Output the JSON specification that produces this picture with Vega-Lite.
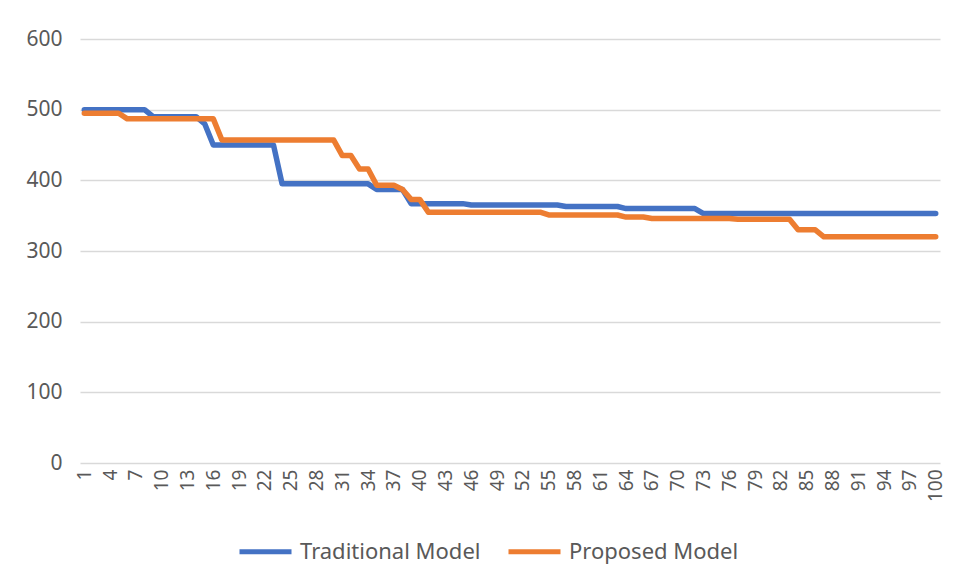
{
  "$schema": "https://vega.github.io/schema/vega-lite/v6.json",
  "width": 860,
  "height": 424,
  "autosize": {"type": "none"},
  "padding": {"left": 80, "top": 39, "right": 20, "bottom": 118},
  "background": "white",
  "config": {
    "view": {"stroke": null},
    "font": "Noto Sans",
    "axis": {"labelColor": "#595959", "labelFont": "Noto Sans"},
    "legend": {"labelColor": "#595959", "labelFont": "Noto Sans"}
  },
  "data": {"values": [
    {"x":1,"Traditional Model":500,"Proposed Model":495},
    {"x":2,"Traditional Model":500,"Proposed Model":495},
    {"x":3,"Traditional Model":500,"Proposed Model":495},
    {"x":4,"Traditional Model":500,"Proposed Model":495},
    {"x":5,"Traditional Model":500,"Proposed Model":495},
    {"x":6,"Traditional Model":500,"Proposed Model":487},
    {"x":7,"Traditional Model":500,"Proposed Model":487},
    {"x":8,"Traditional Model":500,"Proposed Model":487},
    {"x":9,"Traditional Model":490,"Proposed Model":487},
    {"x":10,"Traditional Model":490,"Proposed Model":487},
    {"x":11,"Traditional Model":490,"Proposed Model":487},
    {"x":12,"Traditional Model":490,"Proposed Model":487},
    {"x":13,"Traditional Model":490,"Proposed Model":487},
    {"x":14,"Traditional Model":490,"Proposed Model":487},
    {"x":15,"Traditional Model":480,"Proposed Model":487},
    {"x":16,"Traditional Model":450,"Proposed Model":487},
    {"x":17,"Traditional Model":450,"Proposed Model":457},
    {"x":18,"Traditional Model":450,"Proposed Model":457},
    {"x":19,"Traditional Model":450,"Proposed Model":457},
    {"x":20,"Traditional Model":450,"Proposed Model":457},
    {"x":21,"Traditional Model":450,"Proposed Model":457},
    {"x":22,"Traditional Model":450,"Proposed Model":457},
    {"x":23,"Traditional Model":450,"Proposed Model":457},
    {"x":24,"Traditional Model":395,"Proposed Model":457},
    {"x":25,"Traditional Model":395,"Proposed Model":457},
    {"x":26,"Traditional Model":395,"Proposed Model":457},
    {"x":27,"Traditional Model":395,"Proposed Model":457},
    {"x":28,"Traditional Model":395,"Proposed Model":457},
    {"x":29,"Traditional Model":395,"Proposed Model":457},
    {"x":30,"Traditional Model":395,"Proposed Model":457},
    {"x":31,"Traditional Model":395,"Proposed Model":435},
    {"x":32,"Traditional Model":395,"Proposed Model":435},
    {"x":33,"Traditional Model":395,"Proposed Model":416},
    {"x":34,"Traditional Model":395,"Proposed Model":416},
    {"x":35,"Traditional Model":387,"Proposed Model":393},
    {"x":36,"Traditional Model":387,"Proposed Model":393},
    {"x":37,"Traditional Model":387,"Proposed Model":393},
    {"x":38,"Traditional Model":387,"Proposed Model":387},
    {"x":39,"Traditional Model":367,"Proposed Model":373},
    {"x":40,"Traditional Model":367,"Proposed Model":373},
    {"x":41,"Traditional Model":367,"Proposed Model":355},
    {"x":42,"Traditional Model":367,"Proposed Model":355},
    {"x":43,"Traditional Model":367,"Proposed Model":355},
    {"x":44,"Traditional Model":367,"Proposed Model":355},
    {"x":45,"Traditional Model":367,"Proposed Model":355},
    {"x":46,"Traditional Model":365,"Proposed Model":355},
    {"x":47,"Traditional Model":365,"Proposed Model":355},
    {"x":48,"Traditional Model":365,"Proposed Model":355},
    {"x":49,"Traditional Model":365,"Proposed Model":355},
    {"x":50,"Traditional Model":365,"Proposed Model":355},
    {"x":51,"Traditional Model":365,"Proposed Model":355},
    {"x":52,"Traditional Model":365,"Proposed Model":355},
    {"x":53,"Traditional Model":365,"Proposed Model":355},
    {"x":54,"Traditional Model":365,"Proposed Model":355},
    {"x":55,"Traditional Model":365,"Proposed Model":351},
    {"x":56,"Traditional Model":365,"Proposed Model":351},
    {"x":57,"Traditional Model":363,"Proposed Model":351},
    {"x":58,"Traditional Model":363,"Proposed Model":351},
    {"x":59,"Traditional Model":363,"Proposed Model":351},
    {"x":60,"Traditional Model":363,"Proposed Model":351},
    {"x":61,"Traditional Model":363,"Proposed Model":351},
    {"x":62,"Traditional Model":363,"Proposed Model":351},
    {"x":63,"Traditional Model":363,"Proposed Model":351},
    {"x":64,"Traditional Model":360,"Proposed Model":348},
    {"x":65,"Traditional Model":360,"Proposed Model":348},
    {"x":66,"Traditional Model":360,"Proposed Model":348},
    {"x":67,"Traditional Model":360,"Proposed Model":346},
    {"x":68,"Traditional Model":360,"Proposed Model":346},
    {"x":69,"Traditional Model":360,"Proposed Model":346},
    {"x":70,"Traditional Model":360,"Proposed Model":346},
    {"x":71,"Traditional Model":360,"Proposed Model":346},
    {"x":72,"Traditional Model":360,"Proposed Model":346},
    {"x":73,"Traditional Model":353,"Proposed Model":346},
    {"x":74,"Traditional Model":353,"Proposed Model":346},
    {"x":75,"Traditional Model":353,"Proposed Model":346},
    {"x":76,"Traditional Model":353,"Proposed Model":346},
    {"x":77,"Traditional Model":353,"Proposed Model":345},
    {"x":78,"Traditional Model":353,"Proposed Model":345},
    {"x":79,"Traditional Model":353,"Proposed Model":345},
    {"x":80,"Traditional Model":353,"Proposed Model":345},
    {"x":81,"Traditional Model":353,"Proposed Model":345},
    {"x":82,"Traditional Model":353,"Proposed Model":345},
    {"x":83,"Traditional Model":353,"Proposed Model":345},
    {"x":84,"Traditional Model":353,"Proposed Model":330},
    {"x":85,"Traditional Model":353,"Proposed Model":330},
    {"x":86,"Traditional Model":353,"Proposed Model":330},
    {"x":87,"Traditional Model":353,"Proposed Model":320},
    {"x":88,"Traditional Model":353,"Proposed Model":320},
    {"x":89,"Traditional Model":353,"Proposed Model":320},
    {"x":90,"Traditional Model":353,"Proposed Model":320},
    {"x":91,"Traditional Model":353,"Proposed Model":320},
    {"x":92,"Traditional Model":353,"Proposed Model":320},
    {"x":93,"Traditional Model":353,"Proposed Model":320},
    {"x":94,"Traditional Model":353,"Proposed Model":320},
    {"x":95,"Traditional Model":353,"Proposed Model":320},
    {"x":96,"Traditional Model":353,"Proposed Model":320},
    {"x":97,"Traditional Model":353,"Proposed Model":320},
    {"x":98,"Traditional Model":353,"Proposed Model":320},
    {"x":99,"Traditional Model":353,"Proposed Model":320},
    {"x":100,"Traditional Model":353,"Proposed Model":320}
  ]},
  "transform": [
    {"fold": ["Traditional Model", "Proposed Model"], "as": ["model", "value"]}
  ],
  "mark": {"type": "line", "strokeWidth": 5.5, "strokeJoin": "round", "strokeCap": "round"},
  "encoding": {
    "x": {
      "field": "x", "type": "ordinal",
      "scale": {"type": "point", "padding": 0.5},
      "axis": {
        "title": null, "values": [1,4,7,10,13,16,19,22,25,28,31,34,37,40,43,46,49,52,55,58,61,64,67,70,73,76,79,82,85,88,91,94,97,100],
        "labelAngle": -90, "labelAlign": "right", "labelBaseline": "middle",
        "labelFontSize": 19, "labelPadding": 6, "ticks": false, "domain": false, "grid": false,
        "labelOverlap": false
      }
    },
    "y": {
      "field": "value", "type": "quantitative",
      "scale": {"domain": [0, 600]},
      "axis": {
        "title": null, "values": [0,100,200,300,400,500,600],
        "labelFontSize": 21, "labelPadding": 18, "ticks": false, "domain": false,
        "grid": true, "gridColor": "#D9D9D9", "gridWidth": 1.5
      }
    },
    "color": {
      "field": "model", "type": "nominal",
      "scale": {"domain": ["Traditional Model", "Proposed Model"], "range": ["#4472C4", "#ED7D31"]},
      "legend": {
        "title": null, "orient": "none", "direction": "horizontal",
        "legendX": 157, "legendY": 484,
        "symbolType": "stroke", "symbolSize": 2704, "symbolStrokeWidth": 5,
        "labelFontSize": 22, "labelOffset": 6, "columnPadding": 17, "labelLimit": 0
      }
    }
  }
}
